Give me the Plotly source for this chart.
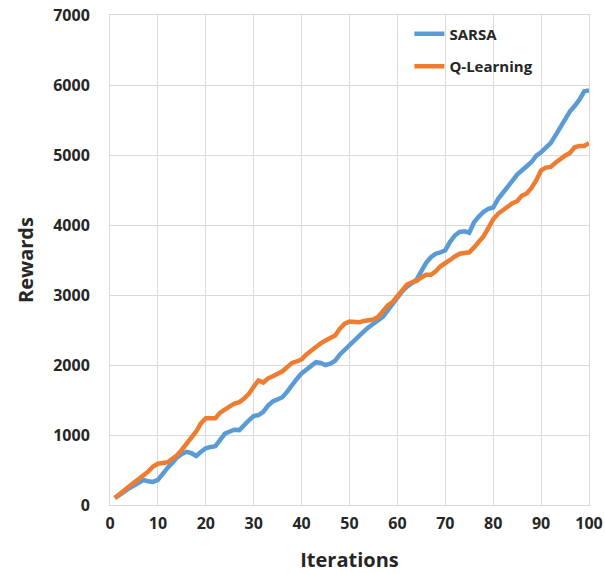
import plotly.graph_objects as go

iterations = list(range(1, 101))

sarsa = [100, 140, 190, 240, 280, 320, 355, 340, 330, 360,
         450, 530, 600, 680, 730, 760, 740, 700, 760, 810,
         830, 840, 930, 1020, 1050, 1075, 1070, 1150, 1210, 1270,
         1285, 1330, 1420, 1480, 1510, 1540, 1620, 1720, 1800, 1880,
         1940, 2000, 2040, 2030, 2000, 2020, 2060, 2150, 2220, 2280,
         2340, 2410, 2480, 2540, 2600, 2640, 2690, 2780, 2860, 2970,
         3050, 3120, 3180, 3220, 3340, 3460, 3540, 3590, 3610, 3640,
         3760, 3850, 3900, 3910, 3890, 4040, 4120, 4190, 4230, 4250,
         4370, 4450, 4530, 4630, 4720, 4790, 4840, 4900, 4990, 5040,
         5100, 5170, 5280, 5400, 5530, 5620, 5700, 5790, 5910, 5920]

qlearning = [100, 160, 210, 260, 320, 370, 420, 480, 550, 590,
             600, 610, 660, 710, 790, 880, 980, 1050, 1170, 1240,
             1240, 1240, 1320, 1370, 1410, 1450, 1470, 1520, 1590, 1690,
             1780, 1750, 1810, 1840, 1870, 1910, 1970, 2030, 2050, 2080,
             2150, 2210, 2260, 2310, 2350, 2380, 2420, 2520, 2590, 2620,
             2610, 2610, 2630, 2640, 2650, 2690, 2770, 2850, 2900, 2990,
             3080, 3150, 3180, 3200, 3250, 3290, 3290, 3340, 3410, 3450,
             3500, 3550, 3590, 3600, 3610, 3680, 3760, 3840, 3960, 4080,
             4160, 4210, 4260, 4310, 4340, 4420, 4450, 4530, 4640, 4780,
             4820, 4830, 4890, 4950, 4990, 5030, 5110, 5130, 5130, 5170]

x_ticks = list(range(0, 101, 10))
y_ticks = list(range(0, 7001, 1000))

FONT = "Open Sans"
TXT = "#262626"

fig = go.Figure()
fig.add_trace(go.Scatter(x=iterations, y=sarsa, mode="lines", name="SARSA",
                         legendgroup="a",
                         line=dict(color="#5b9bd5", width=4.5)))
fig.add_trace(go.Scatter(x=iterations, y=qlearning, mode="lines", name="Q-Learning",
                         legendgroup="b",
                         line=dict(color="#ed7d31", width=4.5)))

fig.update_layout(
    width=605, height=573,
    margin=dict(l=110, r=16, t=15, b=68),
    paper_bgcolor="white", plot_bgcolor="white",
    font=dict(family=FONT, color=TXT),
    showlegend=True,
    legend=dict(x=0.625, y=0.995, xanchor="left", yanchor="top",
                bgcolor="rgba(0,0,0,0)", itemwidth=30,
                tracegroupgap=10,
                font=dict(family=FONT, size=15, color=TXT, weight="bold")),
    xaxis=dict(range=[0, 100], tickvals=x_ticks, ticktext=[str(v) for v in x_ticks],
               automargin=False,
               showgrid=True, gridcolor="#d9d9d9", gridwidth=1,
               showline=True, linecolor="#d9d9d9", linewidth=1, mirror=True,
               ticks="", zeroline=False, ticklabelstandoff=4,
               tickfont=dict(family=FONT, size=16, color=TXT, weight="bold"),
               title=dict(text="Iterations", standoff=20,
                          font=dict(family=FONT, size=20, color=TXT, weight="bold"))),
    yaxis=dict(range=[0, 7000], tickvals=y_ticks, ticktext=[str(v) for v in y_ticks],
               automargin=False,
               showgrid=True, gridcolor="#d9d9d9", gridwidth=1,
               showline=True, linecolor="#d9d9d9", linewidth=1, mirror=True,
               ticks="", zeroline=False, ticklabelstandoff=16,
               tickfont=dict(family=FONT, size=16, color=TXT, weight="bold"),
               title=dict(text="Rewards", standoff=14,
                          font=dict(family=FONT, size=20, color=TXT, weight="bold"))),
)

fig.write_html("out.html", config={"displayModeBar": False},
               post_script="document.body.style.margin='0';document.body.style.padding='0';")
